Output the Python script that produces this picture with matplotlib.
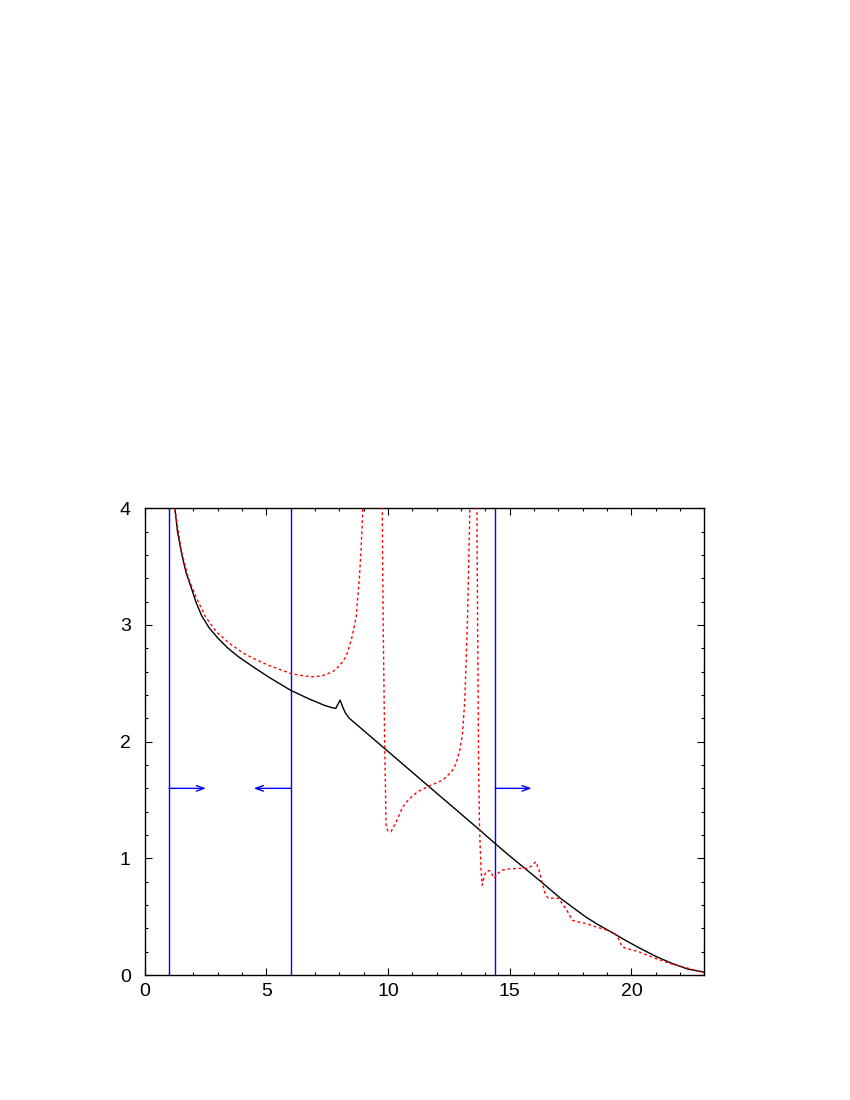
import numpy as np
import matplotlib
matplotlib.use("Agg")
import matplotlib.pyplot as plt

plt.rcParams['font.family'] = ['Liberation Sans', 'DejaVu Sans']

# Black solid curve
black_x = [1.24, 1.35, 1.52, 1.7, 1.93, 2.1, 2.34, 2.65, 3.02, 3.4, 3.84, 4.5, 5.14, 6.0,
           6.77, 7.4, 7.73, 7.85, 8.03, 8.15, 8.25, 8.41, 9.0, 10.0, 11.0, 12.0, 13.0,
           13.67, 14.36, 15.0, 15.79, 16.34, 17.09, 17.6, 18.11, 18.6, 19.2, 19.75, 20.3,
           21.0, 21.66, 22.3, 22.9, 23.0]
black_y = [4.0, 3.8, 3.61, 3.45, 3.31, 3.2, 3.08, 2.975, 2.885, 2.805, 2.73, 2.635, 2.548, 2.44,
           2.365, 2.31, 2.29, 2.285, 2.356, 2.29, 2.245, 2.2, 2.095, 1.916, 1.737, 1.558, 1.38,
           1.26, 1.134, 1.02, 0.885, 0.79, 0.657, 0.578, 0.5, 0.435, 0.365, 0.298, 0.235,
           0.16, 0.1, 0.052, 0.028, 0.025]

# Red dotted curve (NaN marks the gaps where the curve leaves the top of the plot)
red_x = [1.24, 1.5, 1.8, 2.13, 2.5, 2.95, 3.5, 4.04, 4.6, 5.14, 6.0, 6.5, 6.91, 7.3, 7.73,
         8.0, 8.28, 8.5, 8.69, 8.82, 8.89, 8.96, 9.02,
         np.nan,
         9.75, 9.8, 9.86, 9.92, 10.0, 10.12, 10.33, 10.6, 10.87, 11.21, 11.69, 12.24, 12.6,
         12.79, 12.95, 13.06, 13.15, 13.2, 13.27, 13.31, 13.36, 13.39,
         np.nan,
         13.64, 13.68, 13.72, 13.76, 13.82, 13.87, 13.95, 14.05, 14.18, 14.28, 14.36, 14.5,
         14.7, 15.0, 15.38, 15.72, 15.9, 16.07, 16.2, 16.34, 16.45, 16.58, 16.81, 17.0, 17.2,
         17.36, 17.57, 17.8, 18.11, 18.52, 19.07, 19.34, 19.45, 19.61, 19.75, 20.3, 20.98,
         21.66, 22.35, 22.9, 23.0]
red_y = [4.0, 3.64, 3.4, 3.23, 3.07, 2.94, 2.84, 2.76, 2.70, 2.65, 2.585, 2.565, 2.556, 2.565, 2.6,
         2.65, 2.73, 2.88, 3.07, 3.4, 3.64, 3.98, 4.3,
         np.nan,
         4.3, 3.0, 2.0, 1.27, 1.235, 1.228, 1.31, 1.44, 1.51, 1.57, 1.62, 1.67, 1.74,
         1.81, 1.93, 2.07, 2.35, 2.64, 3.1, 3.5, 4.0, 4.3,
         np.nan,
         4.3, 3.0, 1.8, 1.24, 0.9, 0.77, 0.85, 0.89, 0.894, 0.86, 0.83, 0.87,
         0.9, 0.91, 0.914, 0.915, 0.935, 0.971, 0.9, 0.785, 0.70, 0.657, 0.66, 0.657, 0.6,
         0.55, 0.47, 0.455, 0.443, 0.414, 0.38, 0.351, 0.32, 0.243, 0.23, 0.2, 0.143,
         0.094, 0.057, 0.023, 0.02]

# Blue vertical markers and arrows
vlines_x = [1.0, 6.0, 14.4]
arrow_y = 1.6
arrows = [(1.0, 2.52), (6.0, 4.48), (14.4, 15.9)]

xticks_major = [0, 5, 10, 15, 20]
yticks_major = [0, 1, 2, 3, 4]

fig = plt.figure(figsize=(8.5, 11), dpi=100)
ax = fig.add_axes([0.1702, 0.1136, 0.8288 - 0.1702, 0.5379 - 0.1136])

ax.plot(black_x, black_y, color='black', lw=1.0, zorder=3)
ax.plot(red_x, red_y, color='#ff0000', lw=1.0, linestyle=(0, (2, 2)), zorder=3)

for xv in vlines_x:
    ax.axvline(xv, color='#0000ff', lw=1.0, zorder=2)
for x0, x1 in arrows:
    ax.annotate('', xy=(x1, arrow_y), xytext=(x0, arrow_y),
                arrowprops=dict(arrowstyle='->,head_length=0.55,head_width=0.2',
                                color='#0000ff', lw=1.0, shrinkA=0, shrinkB=0))

ax.set_xlim(0, 23)
ax.set_ylim(0, 4)
ax.set_xticks(xticks_major)
ax.set_yticks(yticks_major)
ax.set_xticks(np.arange(0, 24, 1), minor=True)
ax.set_yticks(np.arange(0, 4.01, 0.2), minor=True)
ax.tick_params(which='both', direction='in', top=True, right=True, labelsize=14, width=0.8)
ax.tick_params(which='major', length=5)
ax.tick_params(axis='x', which='major', pad=6)
ax.tick_params(axis='y', which='major', pad=10)
ax.tick_params(which='minor', length=2.5)
for s in ax.spines.values():
    s.set_linewidth(1.0)

fig.savefig('out.png', dpi=100)
